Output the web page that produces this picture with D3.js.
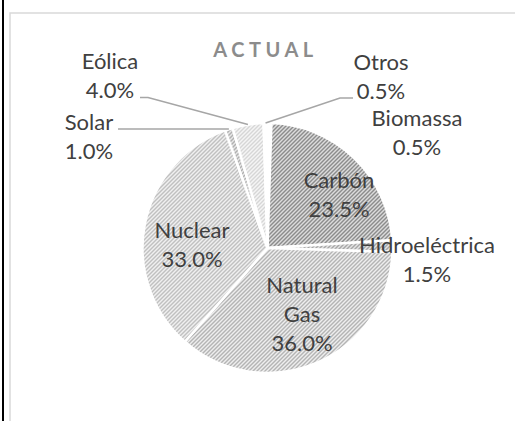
<!DOCTYPE html>
<html>
<head>
<meta charset="utf-8">
<script src="https://cdn.jsdelivr.net/npm/d3@7"></script>
<style>
  html, body { margin: 0; padding: 0; background: #fff; }
  svg { display: block; }
</style>
</head>
<body>
<div id="chart"></div>
<script>
// datos del gráfico (orden de Excel, empezando a las 12 en punto)
const categories = ['Biomassa', 'Carbón', 'Hidroeléctrica', 'Natural Gas', 'Nuclear', 'Solar', 'Eólica', 'Otros'];
const values = [0.5, 23.5, 1.5, 36.0, 33.0, 1.0, 4.0, 0.5];
const title = 'ACTUAL';

// relleno de trama: [color de línea, color de fondo]
const patterns = [
    ['#ffffff', '#ffffff'],
    ['#8c8c8c', '#dcdcdc'],
    ['#a6a6a6', '#e4e4e4'],
    ['#b4b4b4', '#eeeeee'],
    ['#c0c0c0', '#f0f0f0'],
    ['#b0b0b0', '#e8e8e8'],
    ['#d6d6d6', '#f5f5f5'],
    ['#ffffff', '#ffffff']
];

// posición de las etiquetas (centro x, línea base de la primera línea)
const labelPos = [
    [417, 126], [339, 188], [427, 253], [302, 293],
    [192, 238], [89, 130], [110, 69], [381, 70]
];
// líneas guía: índice, x inicial, x del codo, y
const leaders = [
    { i: 6, x0: 140, x1: 148, y: 97.5 },
    { i: 5, x0: 118, x1: 118, y: 129 },
    { i: 7, x0: 353, x1: 340, y: 98 }
];

const width = 515, height = 421;
const cx = 267.5, cy = 248, R = 125;

const svg = d3.select('#chart').append('svg')
    .attr('width', width)
    .attr('height', height);

// marco
svg.append('rect')
    .attr('x', 10).attr('y', 13)
    .attr('width', 520).attr('height', 430)
    .attr('fill', 'none')
    .attr('stroke', '#d9d9d9')
    .attr('stroke-width', 1.5);
svg.append('line')
    .attr('x1', 3).attr('x2', 3)
    .attr('y1', 0).attr('y2', height)
    .attr('stroke', '#000')
    .attr('stroke-width', 2);

const defs = svg.append('defs');
patterns.forEach((p, k) => {
    const pat = defs.append('pattern')
        .attr('id', 'pat' + k)
        .attr('patternUnits', 'userSpaceOnUse')
        .attr('width', 4).attr('height', 4);
    pat.append('rect').attr('width', 4).attr('height', 4).attr('fill', p[1]);
    for (let y = 0; y < 4; y++) {
        [0, 1].forEach(o => {
            pat.append('rect')
                .attr('x', (3 - y + o + 4) % 4).attr('y', y)
                .attr('width', 1).attr('height', 1)
                .attr('fill', p[0]);
        });
    }
});

const pie = d3.pie().sort(null).value(d => d);
const arcs = pie(values);
const arc = d3.arc().innerRadius(0).outerRadius(R);

const g = svg.append('g').attr('transform', `translate(${cx},${cy})`);

g.selectAll('path')
    .data(arcs)
    .enter().append('path')
    .attr('d', arc)
    .attr('fill', (d, k) => `url(#pat${k})`)
    .attr('stroke', '#fff')
    .attr('stroke-width', 2.5)
    .attr('stroke-linejoin', 'round');

// líneas guía
leaders.forEach(l => {
    const a = (arcs[l.i].startAngle + arcs[l.i].endAngle) / 2;
    const px = cx + R * Math.sin(a), py = cy - R * Math.cos(a);
    svg.append('polyline')
        .attr('points', `${l.x0},${l.y} ${l.x1},${l.y} ${px},${py}`)
        .attr('fill', 'none')
        .attr('stroke', '#a6a6a6')
        .attr('stroke-width', 1.5);
});

// etiquetas
const fmt = d3.format('.1f');
categories.forEach((c, k) => {
    const lines = c.split(' ').concat([fmt(values[k]) + '%']);
    const t = svg.append('text')
        .attr('x', labelPos[k][0])
        .attr('y', labelPos[k][1])
        .attr('text-anchor', 'middle')
        .attr('font-family', 'Lato, "Open Sans", sans-serif')
        .attr('font-size', 22)
        .attr('fill', '#404040');
    lines.forEach((s, j) => {
        t.append('tspan')
            .attr('x', labelPos[k][0])
            .attr('dy', j === 0 ? 0 : 29)
            .text(s);
    });
});

svg.append('text')
    .attr('x', cx - 2)
    .attr('y', 57)
    .attr('text-anchor', 'middle')
    .attr('font-family', 'Lato, "Open Sans", sans-serif')
    .attr('font-size', 20)
    .attr('font-weight', 'bold')
    .attr('letter-spacing', 4.5)
    .attr('fill', '#8c8c8c')
    .text(title);
</script>
</body>
</html>
